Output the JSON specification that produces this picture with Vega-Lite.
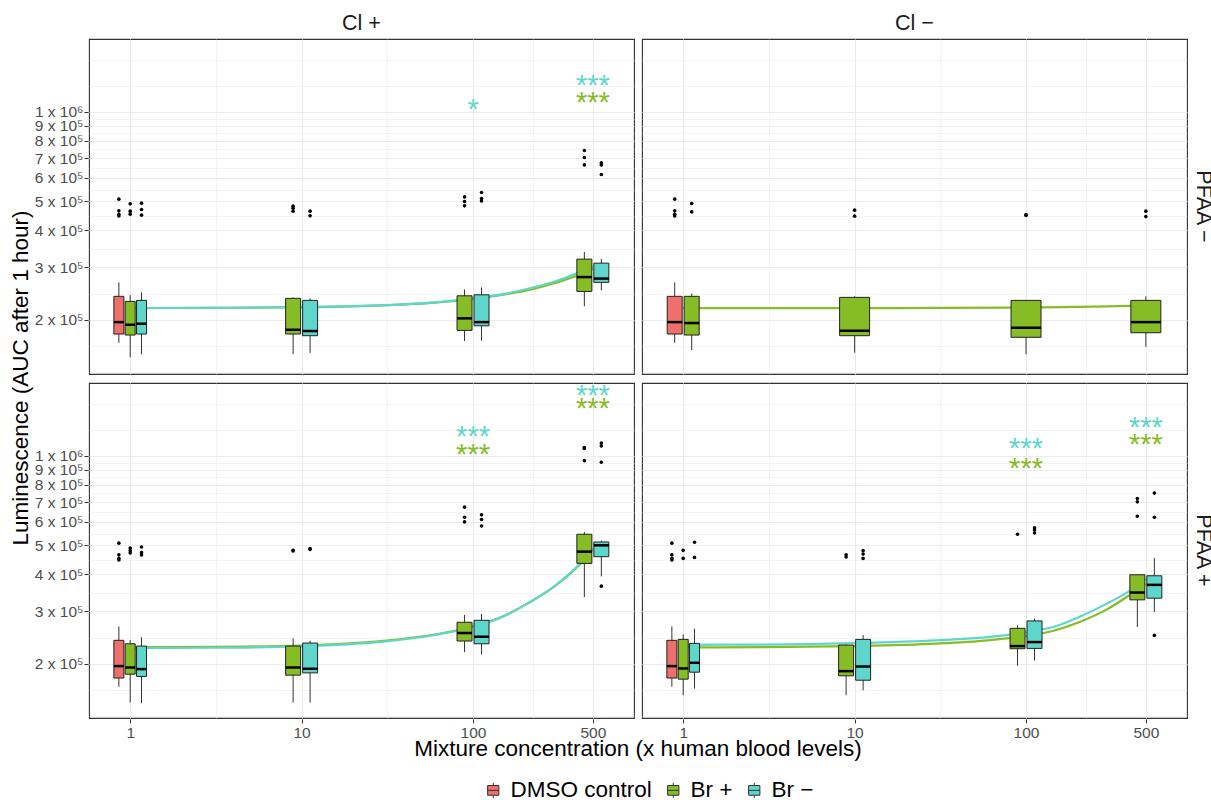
{
"$schema": "https://vega.github.io/schema/vega-lite/v6.json",
"padding": {"left": 9, "top": 12, "right": 0, "bottom": 0},
"background": "white",
"data": {"values": [
{"kind":"box","cl":"Cl +","pfaa":"PFAA −","dose":1,"group":"DMSO control","lo":167500,"q1":179200,"med":196500,"q3":239900,"hi":267300,"out":[509000,465000,453000,447000]},
{"kind":"box","cl":"Cl +","pfaa":"PFAA −","dose":1,"group":"Br +","lo":149600,"q1":177800,"med":192500,"q3":230700,"hi":242300,"out":[490900,463900,453300]},
{"kind":"box","cl":"Cl +","pfaa":"PFAA −","dose":1,"group":"Br −","lo":153200,"q1":179200,"med":194100,"q3":232500,"hi":247300,"out":[493500,470100,449800]},
{"kind":"box","cl":"Cl +","pfaa":"PFAA −","dose":10,"group":"Br +","lo":153200,"q1":179200,"med":185200,"q3":236200,"hi":238000,"out":[482200,474800,463900]},
{"kind":"box","cl":"Cl +","pfaa":"PFAA −","dose":10,"group":"Br −","lo":154700,"q1":176900,"med":183400,"q3":232500,"hi":236200,"out":[463900,447300]},
{"kind":"box","cl":"Cl +","pfaa":"PFAA −","dose":100,"group":"Br +","lo":169700,"q1":184300,"med":202300,"q3":240900,"hi":253100,"out":[518000,500000,483400]},
{"kind":"box","cl":"Cl +","pfaa":"PFAA −","dose":100,"group":"Br −","lo":170100,"q1":191000,"med":196500,"q3":242800,"hi":257100,"out":[535900,511600,502300]},
{"kind":"box","cl":"Cl +","pfaa":"PFAA −","dose":500,"group":"Br +","lo":222000,"q1":249200,"med":278500,"q3":320000,"hi":338600,"out":[741700,702600,663700]},
{"kind":"box","cl":"Cl +","pfaa":"PFAA −","dose":500,"group":"Br −","lo":251200,"q1":267300,"med":275300,"q3":310200,"hi":320700,"out":[674200,663700,616200]},
{"kind":"box","cl":"Cl −","pfaa":"PFAA −","dose":1,"group":"DMSO control","lo":167500,"q1":179200,"med":196500,"q3":239900,"hi":267300,"out":[509000,465000,453000,447000]},
{"kind":"box","cl":"Cl −","pfaa":"PFAA −","dose":1,"group":"Br +","lo":158300,"q1":177800,"med":195100,"q3":239900,"hi":245500,"out":[492300,461300]},
{"kind":"box","cl":"Cl −","pfaa":"PFAA −","dose":10,"group":"Br +","lo":155000,"q1":176900,"med":183800,"q3":238000,"hi":239900,"out":[467600,446300]},
{"kind":"box","cl":"Cl −","pfaa":"PFAA −","dose":100,"group":"Br +","lo":153200,"q1":174700,"med":188100,"q3":232500,"hi":233000,"out":[452200,449000]},
{"kind":"box","cl":"Cl −","pfaa":"PFAA −","dose":500,"group":"Br +","lo":162400,"q1":181000,"med":196500,"q3":232500,"hi":239900,"out":[463900,444700]},
{"kind":"box","cl":"Cl +","pfaa":"PFAA +","dose":1,"group":"DMSO control","lo":167500,"q1":179200,"med":196500,"q3":239900,"hi":267300,"out":[509000,465000,453000,447000]},
{"kind":"box","cl":"Cl +","pfaa":"PFAA +","dose":1,"group":"Br +","lo":148200,"q1":184600,"med":194400,"q3":233600,"hi":240400,"out":[490300,480300,471700]},
{"kind":"box","cl":"Cl +","pfaa":"PFAA +","dose":1,"group":"Br −","lo":147400,"q1":181400,"med":192000,"q3":229500,"hi":245500,"out":[494200,473000,464500]},
{"kind":"box","cl":"Cl +","pfaa":"PFAA +","dose":10,"group":"Br +","lo":148200,"q1":183200,"med":194400,"q3":229500,"hi":243600,"out":[481600,479000]},
{"kind":"box","cl":"Cl +","pfaa":"PFAA +","dose":10,"group":"Br −","lo":148200,"q1":186500,"med":192500,"q3":234900,"hi":239200,"out":[487900,484500]},
{"kind":"box","cl":"Cl +","pfaa":"PFAA +","dose":100,"group":"Br +","lo":219000,"q1":238600,"med":253900,"q3":275900,"hi":292100,"out":[672700,622400,600200]},
{"kind":"box","cl":"Cl +","pfaa":"PFAA +","dose":100,"group":"Br −","lo":215100,"q1":233600,"med":246700,"q3":280200,"hi":294400,"out":[633700,611200,581700]},
{"kind":"box","cl":"Cl +","pfaa":"PFAA +","dose":500,"group":"Br +","lo":335100,"q1":435200,"med":476700,"q3":545300,"hi":555300,"out":[1067000,1060000,964300]},
{"kind":"box","cl":"Cl +","pfaa":"PFAA +","dose":500,"group":"Br −","lo":393500,"q1":458400,"med":500600,"q3":513700,"hi":519000,"out":[1106000,1081000,952000,364900]},
{"kind":"box","cl":"Cl −","pfaa":"PFAA +","dose":1,"group":"DMSO control","lo":167500,"q1":179200,"med":196500,"q3":239900,"hi":267300,"out":[509000,465000,453000,447000]},
{"kind":"box","cl":"Cl −","pfaa":"PFAA +","dose":1,"group":"Br +","lo":156800,"q1":177600,"med":193000,"q3":241700,"hi":251300,"out":[481600,452400]},
{"kind":"box","cl":"Cl −","pfaa":"PFAA +","dose":1,"group":"Br −","lo":165100,"q1":187500,"med":201600,"q3":234300,"hi":262600,"out":[512400,456000]},
{"kind":"box","cl":"Cl −","pfaa":"PFAA +","dose":10,"group":"Br +","lo":156800,"q1":182300,"med":189000,"q3":231300,"hi":232300,"out":[465600,457200]},
{"kind":"box","cl":"Cl −","pfaa":"PFAA +","dose":10,"group":"Br −","lo":163000,"q1":176200,"med":195900,"q3":241700,"hi":250000,"out":[480300,468000,452400]},
{"kind":"box","cl":"Cl −","pfaa":"PFAA +","dose":100,"group":"Br +","lo":197000,"q1":224800,"med":229500,"q3":263300,"hi":269600,"out":[545300]},
{"kind":"box","cl":"Cl −","pfaa":"PFAA +","dose":100,"group":"Br −","lo":205300,"q1":225400,"med":236700,"q3":278800,"hi":283900,"out":[572800,564000,551000]},
{"kind":"box","cl":"Cl −","pfaa":"PFAA +","dose":500,"group":"Br +","lo":266000,"q1":328200,"med":347400,"q3":398600,"hi":398600,"out":[719500,701000,627000]},
{"kind":"box","cl":"Cl −","pfaa":"PFAA +","dose":500,"group":"Br −","lo":299000,"q1":332500,"med":368600,"q3":395500,"hi":453600,"out":[750000,622400,249300]},

{"kind":"fit","cl":"Cl +","pfaa":"PFAA −","group":"Br +","dose":1,"value":219000},
{"kind":"fit","cl":"Cl +","pfaa":"PFAA −","group":"Br +","dose":3,"value":219500},
{"kind":"fit","cl":"Cl +","pfaa":"PFAA −","group":"Br +","dose":10,"value":220500},
{"kind":"fit","cl":"Cl +","pfaa":"PFAA −","group":"Br +","dose":30,"value":223700},
{"kind":"fit","cl":"Cl +","pfaa":"PFAA −","group":"Br +","dose":60,"value":228400},
{"kind":"fit","cl":"Cl +","pfaa":"PFAA −","group":"Br +","dose":100,"value":235000},
{"kind":"fit","cl":"Cl +","pfaa":"PFAA −","group":"Br +","dose":150,"value":243000},
{"kind":"fit","cl":"Cl +","pfaa":"PFAA −","group":"Br +","dose":200,"value":250000},
{"kind":"fit","cl":"Cl +","pfaa":"PFAA −","group":"Br +","dose":300,"value":266000},
{"kind":"fit","cl":"Cl +","pfaa":"PFAA −","group":"Br +","dose":400,"value":281000},
{"kind":"fit","cl":"Cl +","pfaa":"PFAA −","group":"Br +","dose":500,"value":297000},
{"kind":"fit","cl":"Cl +","pfaa":"PFAA −","group":"Br −","dose":1,"value":219000},
{"kind":"fit","cl":"Cl +","pfaa":"PFAA −","group":"Br −","dose":3,"value":219500},
{"kind":"fit","cl":"Cl +","pfaa":"PFAA −","group":"Br −","dose":10,"value":220700},
{"kind":"fit","cl":"Cl +","pfaa":"PFAA −","group":"Br −","dose":30,"value":224000},
{"kind":"fit","cl":"Cl +","pfaa":"PFAA −","group":"Br −","dose":60,"value":229000},
{"kind":"fit","cl":"Cl +","pfaa":"PFAA −","group":"Br −","dose":100,"value":236000},
{"kind":"fit","cl":"Cl +","pfaa":"PFAA −","group":"Br −","dose":150,"value":244000},
{"kind":"fit","cl":"Cl +","pfaa":"PFAA −","group":"Br −","dose":200,"value":253000},
{"kind":"fit","cl":"Cl +","pfaa":"PFAA −","group":"Br −","dose":300,"value":269000},
{"kind":"fit","cl":"Cl +","pfaa":"PFAA −","group":"Br −","dose":400,"value":286000},
{"kind":"fit","cl":"Cl +","pfaa":"PFAA −","group":"Br −","dose":500,"value":303000},
{"kind":"fit","cl":"Cl −","pfaa":"PFAA −","group":"Br +","dose":1,"value":219000},
{"kind":"fit","cl":"Cl −","pfaa":"PFAA −","group":"Br +","dose":10,"value":219000},
{"kind":"fit","cl":"Cl −","pfaa":"PFAA −","group":"Br +","dose":30,"value":219300},
{"kind":"fit","cl":"Cl −","pfaa":"PFAA −","group":"Br +","dose":100,"value":220000},
{"kind":"fit","cl":"Cl −","pfaa":"PFAA −","group":"Br +","dose":200,"value":221000},
{"kind":"fit","cl":"Cl −","pfaa":"PFAA −","group":"Br +","dose":300,"value":222000},
{"kind":"fit","cl":"Cl −","pfaa":"PFAA −","group":"Br +","dose":400,"value":223000},
{"kind":"fit","cl":"Cl −","pfaa":"PFAA −","group":"Br +","dose":500,"value":224000},
{"kind":"fit","cl":"Cl +","pfaa":"PFAA +","group":"Br +","dose":1,"value":227500},
{"kind":"fit","cl":"Cl +","pfaa":"PFAA +","group":"Br +","dose":3,"value":228000},
{"kind":"fit","cl":"Cl +","pfaa":"PFAA +","group":"Br +","dose":10,"value":230500},
{"kind":"fit","cl":"Cl +","pfaa":"PFAA +","group":"Br +","dose":30,"value":239000},
{"kind":"fit","cl":"Cl +","pfaa":"PFAA +","group":"Br +","dose":60,"value":251000},
{"kind":"fit","cl":"Cl +","pfaa":"PFAA +","group":"Br +","dose":100,"value":267000},
{"kind":"fit","cl":"Cl +","pfaa":"PFAA +","group":"Br +","dose":150,"value":289000},
{"kind":"fit","cl":"Cl +","pfaa":"PFAA +","group":"Br +","dose":200,"value":315000},
{"kind":"fit","cl":"Cl +","pfaa":"PFAA +","group":"Br +","dose":300,"value":365000},
{"kind":"fit","cl":"Cl +","pfaa":"PFAA +","group":"Br +","dose":400,"value":420000},
{"kind":"fit","cl":"Cl +","pfaa":"PFAA +","group":"Br +","dose":500,"value":485000},
{"kind":"fit","cl":"Cl +","pfaa":"PFAA +","group":"Br −","dose":1,"value":226000},
{"kind":"fit","cl":"Cl +","pfaa":"PFAA +","group":"Br −","dose":3,"value":226500},
{"kind":"fit","cl":"Cl +","pfaa":"PFAA +","group":"Br −","dose":10,"value":229000},
{"kind":"fit","cl":"Cl +","pfaa":"PFAA +","group":"Br −","dose":30,"value":237500},
{"kind":"fit","cl":"Cl +","pfaa":"PFAA +","group":"Br −","dose":60,"value":250000},
{"kind":"fit","cl":"Cl +","pfaa":"PFAA +","group":"Br −","dose":100,"value":266000},
{"kind":"fit","cl":"Cl +","pfaa":"PFAA +","group":"Br −","dose":150,"value":288500},
{"kind":"fit","cl":"Cl +","pfaa":"PFAA +","group":"Br −","dose":200,"value":315000},
{"kind":"fit","cl":"Cl +","pfaa":"PFAA +","group":"Br −","dose":300,"value":366000},
{"kind":"fit","cl":"Cl +","pfaa":"PFAA +","group":"Br −","dose":400,"value":422000},
{"kind":"fit","cl":"Cl +","pfaa":"PFAA +","group":"Br −","dose":500,"value":488000},
{"kind":"fit","cl":"Cl −","pfaa":"PFAA +","group":"Br +","dose":1,"value":227100},
{"kind":"fit","cl":"Cl −","pfaa":"PFAA +","group":"Br +","dose":3,"value":227500},
{"kind":"fit","cl":"Cl −","pfaa":"PFAA +","group":"Br +","dose":10,"value":229500},
{"kind":"fit","cl":"Cl −","pfaa":"PFAA +","group":"Br +","dose":30,"value":234000},
{"kind":"fit","cl":"Cl −","pfaa":"PFAA +","group":"Br +","dose":60,"value":240000},
{"kind":"fit","cl":"Cl −","pfaa":"PFAA +","group":"Br +","dose":100,"value":248000},
{"kind":"fit","cl":"Cl −","pfaa":"PFAA +","group":"Br +","dose":150,"value":260000},
{"kind":"fit","cl":"Cl −","pfaa":"PFAA +","group":"Br +","dose":200,"value":275000},
{"kind":"fit","cl":"Cl −","pfaa":"PFAA +","group":"Br +","dose":300,"value":306000},
{"kind":"fit","cl":"Cl −","pfaa":"PFAA +","group":"Br +","dose":400,"value":340000},
{"kind":"fit","cl":"Cl −","pfaa":"PFAA +","group":"Br +","dose":500,"value":372000},
{"kind":"fit","cl":"Cl −","pfaa":"PFAA +","group":"Br −","dose":1,"value":231800},
{"kind":"fit","cl":"Cl −","pfaa":"PFAA +","group":"Br −","dose":3,"value":232200},
{"kind":"fit","cl":"Cl −","pfaa":"PFAA +","group":"Br −","dose":10,"value":234900},
{"kind":"fit","cl":"Cl −","pfaa":"PFAA +","group":"Br −","dose":30,"value":240000},
{"kind":"fit","cl":"Cl −","pfaa":"PFAA +","group":"Br −","dose":60,"value":246000},
{"kind":"fit","cl":"Cl −","pfaa":"PFAA +","group":"Br −","dose":100,"value":255000},
{"kind":"fit","cl":"Cl −","pfaa":"PFAA +","group":"Br −","dose":150,"value":268000},
{"kind":"fit","cl":"Cl −","pfaa":"PFAA +","group":"Br −","dose":200,"value":286000},
{"kind":"fit","cl":"Cl −","pfaa":"PFAA +","group":"Br −","dose":300,"value":320000},
{"kind":"fit","cl":"Cl −","pfaa":"PFAA +","group":"Br −","dose":400,"value":351000},
{"kind":"fit","cl":"Cl −","pfaa":"PFAA +","group":"Br −","dose":500,"value":386000},

{"kind":"sig","cl":"Cl +","pfaa":"PFAA −","group":"Br −","dose":100,"value":1053000,"label":"*"},
{"kind":"sig","cl":"Cl +","pfaa":"PFAA −","group":"Br −","dose":500,"value":1271000,"label":"***"},
{"kind":"sig","cl":"Cl +","pfaa":"PFAA −","group":"Br +","dose":500,"value":1114000,"label":"***"},
{"kind":"sig","cl":"Cl +","pfaa":"PFAA +","group":"Br −","dose":100,"value":1208000,"label":"***"},
{"kind":"sig","cl":"Cl +","pfaa":"PFAA +","group":"Br +","dose":100,"value":1045000,"label":"***"},
{"kind":"sig","cl":"Cl +","pfaa":"PFAA +","group":"Br −","dose":500,"value":1657000,"label":"***"},
{"kind":"sig","cl":"Cl +","pfaa":"PFAA +","group":"Br +","dose":500,"value":1494000,"label":"***"},
{"kind":"sig","cl":"Cl −","pfaa":"PFAA +","group":"Br −","dose":100,"value":1100000,"label":"***"},
{"kind":"sig","cl":"Cl −","pfaa":"PFAA +","group":"Br +","dose":100,"value":937000,"label":"***"},
{"kind":"sig","cl":"Cl −","pfaa":"PFAA +","group":"Br −","dose":500,"value":1292000,"label":"***"},
{"kind":"sig","cl":"Cl −","pfaa":"PFAA +","group":"Br +","dose":500,"value":1129000,"label":"***"}
]},
"transform": [
 {"calculate": "indexof(['DMSO control','Br +','Br −'], datum.group)", "as": "gidx"},
 {"window": [{"op": "row_number", "as": "slot"}, {"op": "count", "as": "n"}], "groupby": ["kind", "cl", "pfaa", "dose"], "sort": [{"field": "gidx", "order": "ascending"}], "frame": [null, null]},
 {"calculate": "(datum.slot - (datum.n + 1) / 2) * 34 / datum.n / 171.5", "as": "off"},
 {"calculate": "datum.dose * pow(10, datum.off)", "as": "xc"},
 {"calculate": "datum.dose * pow(10, datum.off - 15 / datum.n / 171.5)", "as": "xl"},
 {"calculate": "datum.dose * pow(10, datum.off + 15 / datum.n / 171.5)", "as": "xr"}
],
"facet": {
 "column": {"field": "cl", "type": "nominal", "sort": ["Cl +", "Cl −"], "header": {"title": "Mixture concentration (x human blood levels)", "titleOrient": "bottom", "labelOrient": "top", "labelPadding": 4, "titlePadding": -13, "labelFontSize": 21.5, "titleFontSize": 22.5, "labelColor": "#1A1A1A", "titleColor": "#000000", "titleFontWeight": "normal", "labelFont": "Liberation Sans", "titleFont": "Liberation Sans"}},
 "row": {"field": "pfaa", "type": "nominal", "sort": ["PFAA −", "PFAA +"], "header": {"title": "Luminescence (AUC after 1 hour)", "titleOrient": "left", "labelOrient": "right", "labelAngle": 90, "labelPadding": 4, "titlePadding": -8, "labelFontSize": 21.5, "titleFontSize": 22.5, "labelColor": "#1A1A1A", "titleColor": "#000000", "titleFontWeight": "normal", "labelFont": "Liberation Sans", "titleFont": "Liberation Sans"}}
},
"spacing": {"row": 6, "column": 6},
"spec": {
 "width": 545,
 "height": 335,
 "layer": [
  {
   "transform": [{"filter": "datum.kind === 'fit'"}],
   "mark": {"type": "line", "interpolate": "monotone", "strokeWidth": 2.2},
   "encoding": {
    "x": {"field": "dose", "type": "quantitative", "scale": {"type": "log", "domain": [0.575, 869], "nice": false},
          "axis": {"title": null, "values": [1, 3.16228, 10, 31.6228, 100, 223.607, 500], "labelOverlap": false,
                   "labelExpr": "indexof([1,10,100,500], datum.value) >= 0 ? format(datum.value, 'd') : ''",
                   "gridWidth": {"condition": {"test": "indexof([1,10,100,500], datum.value) >= 0", "value": 1.1}, "value": 0.55},
                   "tickOpacity": {"condition": {"test": "indexof([1,10,100,500], datum.value) >= 0", "value": 1}, "value": 0}}},
    "y": {"field": "value", "type": "quantitative", "scale": {"type": "log", "domain": [131500, 1759000], "nice": false},
          "axis": {"title": null, "values": [133333, 163299, 200000, 244949, 300000, 346410, 400000, 447214, 500000, 547723, 600000, 648074, 700000, 748331, 800000, 848528, 900000, 948683, 1000000, 1224745, 1500000], "labelOverlap": false,
                   "labelExpr": "(datum.value > 999000 && datum.value < 1001000) ? '1 x 10⁶' : ((datum.value < 1001000 && abs(datum.value/100000 - round(datum.value/100000)) < 0.001) ? format(round(datum.value/100000), 'd') + ' x 10⁵' : '')",
                   "gridWidth": {"condition": {"test": "datum.value <= 1001000 && abs(datum.value/100000 - round(datum.value/100000)) < 0.001", "value": 1.1}, "value": 0.55},
                   "tickOpacity": {"condition": {"test": "datum.value <= 1001000 && abs(datum.value/100000 - round(datum.value/100000)) < 0.001", "value": 1}, "value": 0},
                   "labelPadding": 1}},
    "stroke": {"field": "group", "type": "nominal", "scale": {"domain": ["Br +", "Br −"], "range": ["#86BC25", "#5FD6CB"]}, "legend": null}
   }
  },
  {
   "transform": [{"filter": "datum.kind === 'box'"}],
   "mark": {"type": "rule", "color": "#333333", "strokeWidth": 1},
   "encoding": {
    "x": {"field": "xc", "type": "quantitative"},
    "y": {"field": "lo", "type": "quantitative"},
    "y2": {"field": "hi"}
   }
  },
  {
   "transform": [{"filter": "datum.kind === 'box'"}],
   "mark": {"type": "rect", "stroke": "#222222", "strokeWidth": 1},
   "encoding": {
    "x": {"field": "xl", "type": "quantitative"},
    "x2": {"field": "xr"},
    "y": {"field": "q1", "type": "quantitative"},
    "y2": {"field": "q3"},
    "fill": {"field": "group", "type": "nominal", "scale": {"domain": ["DMSO control", "Br +", "Br −"], "range": ["#EF6F6C", "#86BC25", "#5FD6CB"]},
             "legend": {"title": null, "orient": "none", "legendX": 393, "legendY": 740, "direction": "horizontal", "labelFontSize": 22.5, "labelColor": "#000000", "labelFont": "Liberation Sans",
                        "symbolType": "M-0.75,-0.65H0.75V0.65H-0.75Z M-0.75,0H0.75 M0,-0.65V-1 M0,0.65V1",
                        "symbolSize": 225, "symbolStrokeColor": "#333333", "symbolStrokeWidth": 1, "symbolOpacity": 1, "columnPadding": 10, "labelOffset": 6}}
   }
  },
  {
   "transform": [{"filter": "datum.kind === 'box'"}],
   "mark": {"type": "rule", "color": "#000000", "strokeWidth": 2.5},
   "encoding": {
    "x": {"field": "xl", "type": "quantitative"},
    "x2": {"field": "xr"},
    "y": {"field": "med", "type": "quantitative"}
   }
  },
  {
   "transform": [{"filter": "datum.kind === 'box'"}, {"flatten": ["out"], "as": ["outv"]}],
   "mark": {"type": "point", "filled": true, "color": "#000000", "size": 13, "opacity": 1},
   "encoding": {
    "x": {"field": "xc", "type": "quantitative"},
    "y": {"field": "outv", "type": "quantitative"}
   }
  },
  {
   "transform": [{"filter": "datum.kind === 'sig'"}],
   "mark": {"type": "text", "fontSize": 29, "align": "center", "baseline": "alphabetic", "dy": 14},
   "encoding": {
    "x": {"field": "dose", "type": "quantitative"},
    "y": {"field": "value", "type": "quantitative"},
    "text": {"field": "label"},
    "color": {"field": "group", "type": "nominal", "scale": {"domain": ["Br +", "Br −"], "range": ["#86BC25", "#5FD6CB"]}, "legend": null}
   }
  }
 ]
},
"config": {
 "font": "Liberation Sans",
 "view": {"stroke": "#333333", "strokeWidth": 1.1},
 "axis": {"domain": false, "grid": true, "gridColor": "#EBEBEB", "tickColor": "#333333", "tickSize": 4, "labelColor": "#4D4D4D", "labelFontSize": 15.5, "labelFont": "Liberation Sans"}
}
}
